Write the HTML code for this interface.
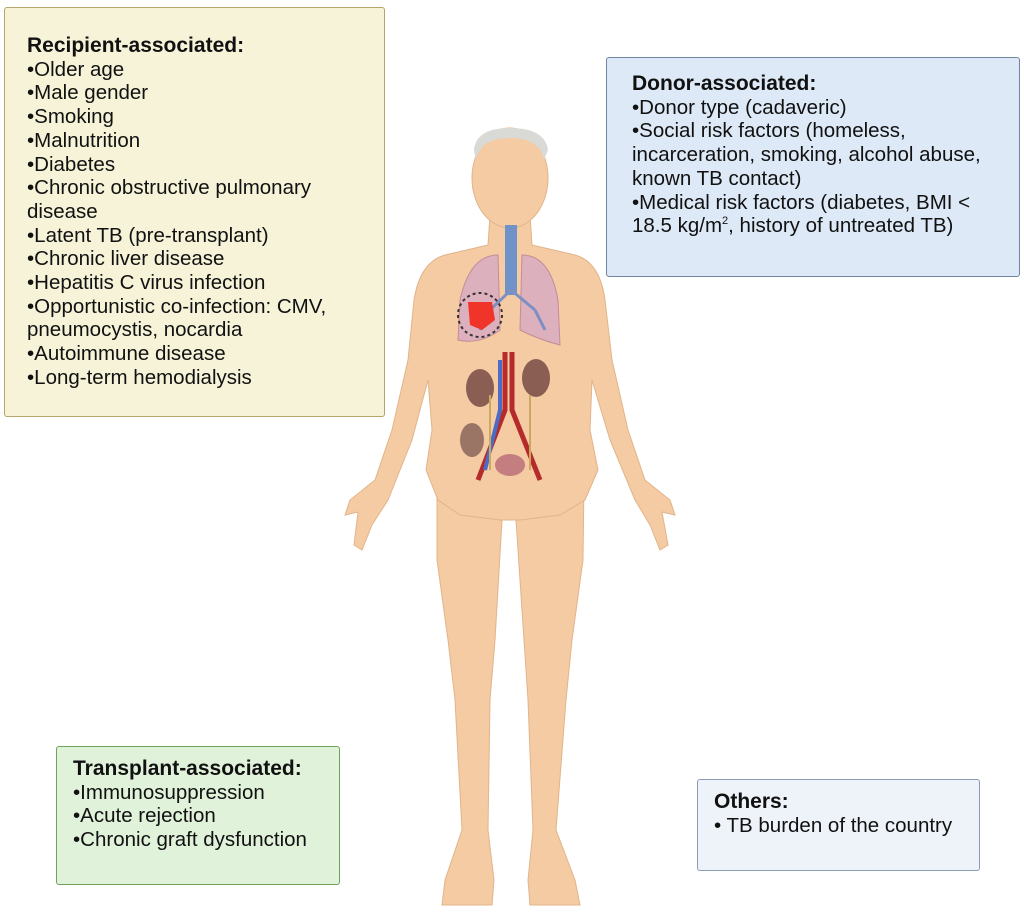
<!DOCTYPE html>
<html><head><meta charset="utf-8"><style>
body{margin:0;width:1024px;height:912px;background:#fff;position:relative;overflow:hidden;font-family:"Liberation Sans",sans-serif;color:#111}
.box{position:absolute;box-sizing:border-box;border-radius:3px;font-size:20.5px;line-height:23.7px;white-space:nowrap}
.box b{font-size:21px}
</style></head><body>
<svg width="1024" height="912" style="position:absolute;left:0;top:0">
<g fill="#f4cba2" stroke="#e2b48b" stroke-width="1">
<path d="M437,480 L500,480 L502,520 L495,640 L490,700 L488,830 L494,880 L492,905 L442,905 L445,880 L462,830 L455,700 L448,640 L437,560 Z"/>
<path d="M518,480 L584,480 L583,560 L572,640 L566,700 L556,830 L575,880 L580,905 L530,905 L528,880 L533,830 L528,700 L524,640 L516,520 Z"/>
<path d="M490,215 L530,215 L532,245 L575,255 Q600,262 605,300 L612,360 L628,430 L645,480 L670,500 L675,515 L662,512 L668,545 L660,550 L650,525 L635,500 L610,440 L592,380 L590,430 L598,470 L585,500 L560,515 L520,520 L500,520 L460,515 L438,500 L426,470 L432,430 L428,380 L412,440 L388,500 L372,525 L362,550 L354,545 L358,512 L345,515 L350,500 L375,480 L392,430 L408,360 L414,300 Q420,262 445,255 L488,245 Z"/>
<ellipse cx="510" cy="178" rx="38" ry="50"/>
</g>
<path d="M474,150 Q476,128 510,128 Q545,128 548,150 L544,160 Q540,138 510,138 Q480,138 476,160 Z" fill="#d9d9d6"/>
<path d="M498,255 Q470,255 460,300 L458,340 Q480,345 500,330 Z" fill="#dcb0bc" stroke="#c48c99"/>
<path d="M522,255 Q550,255 558,300 L560,345 Q540,340 520,330 Z" fill="#dcb0bc" stroke="#c48c99"/>
<rect x="505" y="225" width="12" height="70" fill="#6f93c9"/>
<path d="M511,290 L490,310 M511,290 L535,310 M535,310 L545,330 M490,310 L480,330" stroke="#7f8fc4" stroke-width="3" fill="none"/>
<circle cx="480" cy="315" r="22" fill="none" stroke="#333" stroke-width="2" stroke-dasharray="3,3"/>
<path d="M468,302 L492,302 L495,320 L482,330 L470,325 Z" fill="#f0342a"/>
<ellipse cx="480" cy="388" rx="14" ry="19" fill="#8a5e52"/>
<ellipse cx="536" cy="378" rx="14" ry="19" fill="#8a5e52"/>
<ellipse cx="472" cy="440" rx="12" ry="17" fill="#9a7565"/>
<path d="M505,352 L505,410 L478,480 M512,352 L512,410 L540,480" stroke="#b52a2a" stroke-width="5" fill="none"/>
<path d="M500,360 L500,410 L485,470" stroke="#4d6bc4" stroke-width="4" fill="none"/>
<path d="M490,395 L490,470 M530,395 L530,470" stroke="#c9a860" stroke-width="2" fill="none"/>
<ellipse cx="510" cy="465" rx="15" ry="11" fill="#c47e80"/>
</svg>

<div class="box" style="left:4px;top:7px;width:381px;height:410px;background:#f6f3d8;border:1.5px solid #b6a56a;padding:26px 0 0 22px">
<b>Recipient-associated:</b><br>•Older age<br>•Male gender<br>•Smoking<br>•Malnutrition<br>•Diabetes<br>•Chronic obstructive pulmonary<br>disease<br>•Latent TB (pre-transplant)<br>•Chronic liver disease<br>•Hepatitis C virus infection<br>•Opportunistic co-infection: CMV,<br>pneumocystis, nocardia<br>•Autoimmune disease<br>•Long-term hemodialysis</div>

<div class="box" style="left:606px;top:57px;width:414px;height:220px;background:#dde9f6;border:1.5px solid #6f85a3;padding:14px 0 0 25px">
<b>Donor-associated:</b><br>•Donor type (cadaveric)<br>•Social risk factors (homeless,<br>incarceration, smoking, alcohol abuse,<br>known TB contact)<br>•Medical risk factors (diabetes, BMI &lt;<br>18.5 kg/m<sup style="font-size:11px;line-height:0">2</sup>, history of untreated TB)</div>

<div class="box" style="left:56px;top:746px;width:284px;height:139px;background:#e1f2da;border:1.5px solid #6fa35c;padding:10px 0 0 16px">
<b>Transplant-associated:</b><br>•Immunosuppression<br>•Acute rejection<br>•Chronic graft dysfunction</div>

<div class="box" style="left:697px;top:779px;width:283px;height:92px;background:#eef3fa;border:1.5px solid #8a9bb5;padding:10px 0 0 16px">
<b>Others:</b><br>• TB burden of the country</div>
</body></html>
